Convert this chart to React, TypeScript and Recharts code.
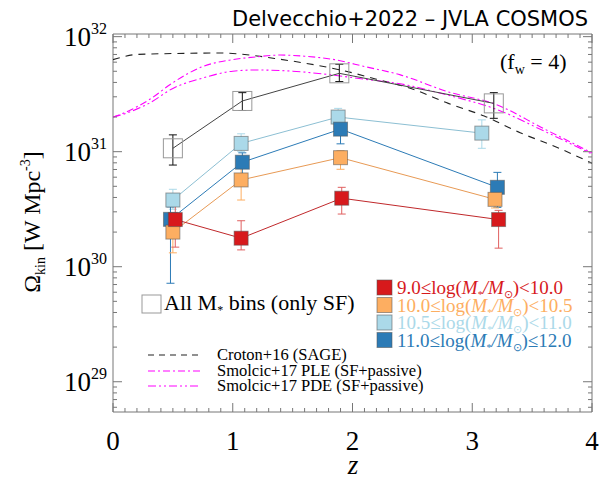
import { ComposedChart, Scatter, Line, XAxis, YAxis, ErrorBar, ReferenceArea } from 'recharts';

const SERIF = '"Liberation Serif", "Times New Roman", serif';
const AXIS = '#777';

// frame of the plot in page pixels
const W = 600;
const H = 482;
const PLOT_L = 113;
const PLOT_R = 592;
const PLOT_T = 34;
const PLOT_B = 412;

const Y_MIN = Math.pow(10, 28.737);
const Y_MAX = Math.pow(10, 32.023);

const RED = '#d7191c';
const ORANGE = '#fdae61';
const LBLUE = '#abd9e9';
const DBLUE = '#2c7bb6';
const MAGENTA = '#ff00ff';

// All M* bins (only SF)
const allZ = [0.5, 1.08, 1.89, 3.18];
const allV = [1.07e31, 2.76e31, 4.8e31, 2.63e31];
const allLo = [7.65e30, 2.28e31, 4.07e31, 1.95e31];
const allHi = [1.4e31, 3.26e31, 5.75e31, 3.26e31];

// 9.0 <= log M < 10.0
const redZ = [0.52, 1.07, 1.91, 3.22];
const redV = [2.57e30, 1.77e30, 3.94e30, 2.57e30];
const redLo = [1.48e30, 1.4e30, 2.87e30, 1.45e30];
const redHi = [4.17e30, 2.51e30, 4.9e30, 3.09e30];

// 10.0 <= log M < 10.5
const orangeZ = [0.5, 1.07, 1.9, 3.19];
const orangeV = [2.0e30, 5.68e30, 8.87e30, 3.85e30];
const orangeLo = [1.32e30, 3.8e30, 7.03e30, 3.24e30];
const orangeHi = [2.55e30, 7.16e30, 1.02e31, 4.79e30];

// 10.5 <= log M < 11.0
const lblueZ = [0.5, 1.07, 1.88, 3.08];
const lblueV = [3.8e30, 1.18e31, 2.0e31, 1.45e31];
const lblueLo = [3.16e30, 1.0e31, 1.7e31, 1.07e31];
const lblueHi = [4.71e30, 1.43e31, 2.38e31, 1.89e31];

// 11.0 <= log M <= 12.0
const dblueZ = [0.48, 1.08, 1.9, 3.21];
const dblueV = [2.58e30, 8.1e30, 1.57e31, 4.9e30];
const dblueLo = [7.18e29, 5.89e30, 1.17e31, 3.28e30];
const dblueHi = [3.31e30, 9.77e30, 1.91e31, 6.61e30];

// model curves
const crotonZ = [0, 0.2, 0.5, 0.9, 1.1, 1.35, 1.6, 1.9, 2.2, 2.5, 2.8, 3.1, 3.4, 3.7, 4.0];
const crotonV = [6.31e31, 7.0e31, 7.13e31, 7.21e31, 7.0e31, 6.46e31, 5.89e31, 5.13e31, 4.27e31, 3.51e31, 2.63e31, 2.04e31, 1.46e31, 1.1e31, 7.94e30];

const pleZ = [0, 0.1, 0.3, 0.5, 0.75, 1.0, 1.2, 1.4, 1.6, 1.85, 2.1, 2.4, 2.8, 3.2, 3.6, 4.0];
const pleV = [2.0e31, 2.19e31, 2.82e31, 3.98e31, 5.5e31, 6.31e31, 6.68e31, 6.92e31, 6.76e31, 6.31e31, 5.5e31, 4.65e31, 3.31e31, 2.57e31, 1.58e31, 9.77e30];

const pdeZ = [0, 0.1, 0.3, 0.5, 0.75, 1.0, 1.2, 1.5, 1.8, 2.1, 2.4, 2.8, 3.2, 3.6, 4.0];
const pdeV = [2.0e31, 2.14e31, 2.63e31, 3.55e31, 4.37e31, 5.01e31, 5.13e31, 5.01e31, 4.68e31, 4.27e31, 3.89e31, 3.09e31, 2.34e31, 1.51e31, 9.55e30];

const xTicks = Array.from({ length: 41 }, (_, i) => i / 10);
const yTicks: number[] = [];
for (let e = 28; e <= 31; e++) {
  for (let k = 1; k <= 9; k++) {
    const v = k * Math.pow(10, e);
    if (v >= Y_MIN && v <= Y_MAX) yTicks.push(v);
  }
}
yTicks.push(1e32);

const massLegend = [
  { lo: '9.0', op: '<', hi: '10.0', color: RED },
  { lo: '10.0', op: '<', hi: '10.5', color: ORANGE },
  { lo: '10.5', op: '<', hi: '11.0', color: LBLUE },
  { lo: '11.0', op: '≤', hi: '12.0', color: DBLUE },
];

const modelLegend = [
  { label: 'Croton+16 (SAGE)', color: '#222', dash: '6 5' },
  { label: 'Smolcic+17 PLE (SF+passive)', color: MAGENTA, dash: '7 3 2 3' },
  { label: 'Smolcic+17 PDE (SF+passive)', color: MAGENTA, dash: '8 3 2 3 2 3' },
];

function points(z: number[], v: number[], lo: number[], hi: number[]) {
  return z.map((zz, i) => ({ z: zz, v: v[i], err: [v[i] - lo[i], hi[i] - v[i]] }));
}

function curve(z: number[], v: number[]) {
  return z.map((zz, i) => ({ z: zz, v: v[i] }));
}

const filledSquare = (fill: string) => (p: any) => (
  <rect x={p.cx - 7} y={p.cy - 7} width={14} height={14} fill={fill} stroke="#555" strokeOpacity={0.55} />
);

const openSquare = (p: any) => (
  <rect x={p.cx - 9.5} y={p.cy - 9.5} width={19} height={19} fill="none" stroke="#999" />
);

function YTick(props: any) {
  const { x, y, payload } = props;
  const v = payload.value as number;
  const exp = Math.round(Math.log10(v));
  const major = Math.abs(v / Math.pow(10, exp) - 1) < 1e-6;
  const len = major ? 9 : 4;
  return (
    <g>
      <line x1={x} x2={x + len} y1={y} y2={y} stroke={AXIS} />
      <line x1={PLOT_R} x2={PLOT_R - len} y1={y} y2={y} stroke={AXIS} />
      {major && (
        <text x={x - 6} y={y + 9} textAnchor="end" fontFamily={SERIF} fontSize={27} fill="#000">
          10<tspan dy={-12} fontSize={16}>{exp}</tspan>
        </text>
      )}
    </g>
  );
}

function XTick(props: any) {
  const { x, y, payload } = props;
  const v = payload.value as number;
  const major = Math.abs(v - Math.round(v)) < 1e-6;
  const len = major ? 9 : 4;
  return (
    <g>
      <line x1={x} x2={x} y1={y} y2={y - len} stroke={AXIS} />
      <line x1={x} x2={x} y1={PLOT_T} y2={PLOT_T + len} stroke={AXIS} />
      {major && (
        <text x={x} y={y + 38} textAnchor="middle" fontFamily={SERIF} fontSize={27} fill="#000">
          {Math.round(v)}
        </text>
      )}
    </g>
  );
}

function Overlay() {
  return (
    <svg width={W} height={H} style={{ position: 'absolute', left: 0, top: 0, pointerEvents: 'none' }}>
      <text x={232} y={26} fontFamily='"DejaVu Sans", sans-serif' fontSize={21} textLength={356} lengthAdjust="spacingAndGlyphs" fill="#000">
        Delvecchio+2022 – JVLA COSMOS
      </text>
      <text x={500} y={69} fontFamily={SERIF} fontSize={22} fill="#000">
        (f<tspan fontSize={14} dy={5}>w</tspan><tspan dy={-5}> = 4)</tspan>
      </text>

      <text transform="translate(40,222) rotate(-90)" textAnchor="middle" fontFamily={SERIF} fontSize={24} fill="#000">
        Ω<tspan fontSize={14} dy={5}>kin</tspan><tspan dy={-5}> [W Mpc</tspan><tspan fontSize={14} dy={-10}>-3</tspan><tspan dy={10}>]</tspan>
      </text>
      <text x={353} y={474} textAnchor="middle" fontFamily={SERIF} fontSize={27} fontStyle="italic" fill="#000">
        z
      </text>

      <rect x={142} y={295} width={19} height={18} fill="none" stroke="#999" />
      <text x={164} y={310} fontFamily={SERIF} fontSize={22} fill="#000">
        All M<tspan fontSize={12} dy={4}>*</tspan><tspan dy={-4}> bins (only SF)</tspan>
      </text>

      {massLegend.map((m, i) => {
        const by = 294 + i * 17.5;
        return (
          <g key={m.lo}>
            <rect x={377} y={by - 14} width={15} height={15} fill={m.color} stroke="#555" strokeOpacity={0.55} />
            <text x={397} y={by} fontFamily={SERIF} fontSize={19} fill={m.color}>
              {m.lo}≤log(<tspan fontStyle="italic">M</tspan><tspan fontSize={10} dy={4}>*</tspan><tspan dy={-4} fontStyle="italic">/M</tspan><tspan fontSize={11} dy={4}>⊙</tspan><tspan dy={-4}>){m.op}{m.hi}</tspan>
            </text>
          </g>
        );
      })}

      {modelLegend.map((m, i) => {
        const by = 360 + i * 15.5;
        const ly = Math.round(by - 5);
        return (
          <g key={m.label}>
            <line x1={148} x2={200} y1={ly} y2={ly} stroke={m.color} strokeWidth={1.2} strokeDasharray={m.dash} />
            <text x={217} y={by} fontFamily={SERIF} fontSize={16.5} fill="#000">
              {m.label}
            </text>
          </g>
        );
      })}
    </svg>
  );
}

export default function App() {
  const errProps = { direction: 'y' as const, dataKey: 'err', width: 4, strokeWidth: 1 };
  return (
    <div style={{ position: 'absolute', left: 0, top: 0, width: W, height: H, background: '#fff' }}>
      <ComposedChart width={W} height={H} margin={{ top: PLOT_T, right: W - PLOT_R, bottom: 0, left: 0 }}>
        <XAxis
          type="number"
          dataKey="z"
          domain={[0, 4]}
          ticks={xTicks}
          interval={0}
          allowDataOverflow
          axisLine={false}
          tickLine={false}
          tickSize={0}
          tickMargin={0}
          height={H - PLOT_B}
          tick={<XTick />}
        />
        <YAxis
          type="number"
          dataKey="v"
          scale="log"
          domain={[Y_MIN, Y_MAX]}
          ticks={yTicks}
          interval={0}
          allowDataOverflow
          axisLine={false}
          tickLine={false}
          tickSize={0}
          tickMargin={0}
          width={PLOT_L}
          tick={<YTick />}
        />
        <ReferenceArea x1={0} x2={4} y1={Y_MIN} y2={Y_MAX} fill="none" stroke={AXIS} strokeWidth={1} ifOverflow="visible" />

        <Line data={curve(crotonZ, crotonV)} dataKey="v" type="monotone" stroke="#222" strokeWidth={1.1} strokeDasharray="7 6" dot={false} isAnimationActive={false} />
        <Line data={curve(pleZ, pleV)} dataKey="v" type="monotone" stroke={MAGENTA} strokeWidth={1.1} strokeDasharray="7 3 2 3" dot={false} isAnimationActive={false} />
        <Line data={curve(pdeZ, pdeV)} dataKey="v" type="monotone" stroke={MAGENTA} strokeWidth={1.1} strokeDasharray="8 3 2 3 2 3" dot={false} isAnimationActive={false} />

        <Scatter data={points(allZ, allV, allLo, allHi)} line={{ stroke: '#444', strokeWidth: 1 }} shape={openSquare} isAnimationActive={false}>
          <ErrorBar {...errProps} stroke="#111" />
        </Scatter>
        <Scatter data={points(lblueZ, lblueV, lblueLo, lblueHi)} line={{ stroke: '#8cbfd3', strokeWidth: 1 }} shape={filledSquare(LBLUE)} isAnimationActive={false}>
          <ErrorBar {...errProps} stroke={LBLUE} />
        </Scatter>
        <Scatter data={points(dblueZ, dblueV, dblueLo, dblueHi)} line={{ stroke: DBLUE, strokeWidth: 1 }} shape={filledSquare(DBLUE)} isAnimationActive={false}>
          <ErrorBar {...errProps} stroke={DBLUE} />
        </Scatter>
        <Scatter data={points(orangeZ, orangeV, orangeLo, orangeHi)} line={{ stroke: '#e89a55', strokeWidth: 1 }} shape={filledSquare(ORANGE)} isAnimationActive={false}>
          <ErrorBar {...errProps} stroke={ORANGE} />
        </Scatter>
        <Scatter data={points(redZ, redV, redLo, redHi)} line={{ stroke: '#c0282b', strokeWidth: 1 }} shape={filledSquare(RED)} isAnimationActive={false}>
          <ErrorBar {...errProps} stroke="#e06060" />
        </Scatter>
      </ComposedChart>
      <Overlay />
    </div>
  );
}
